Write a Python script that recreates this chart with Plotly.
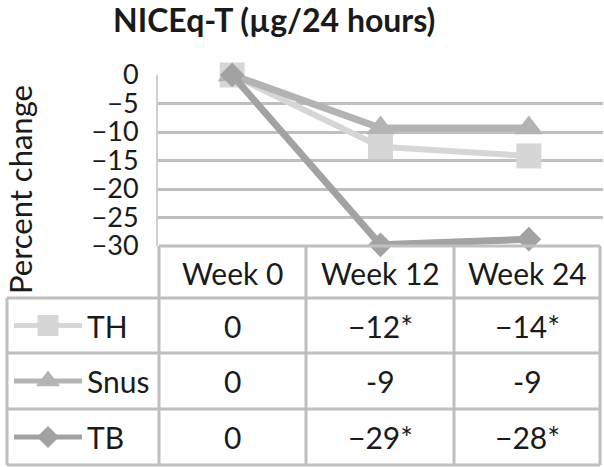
import plotly.graph_objects as go

# ---- data ----
weeks = ["Week 0", "Week 12", "Week 24"]
series_names = ["TH", "Snus", "TB"]
th_values = [0, -12.6, -14.2]
snus_values = [0, -9.3, -9.3]
tb_values = [0, -29.8, -28.8]
th_labels = ["0", "\u221212*", "\u221214*"]
snus_labels = ["0", "-9", "-9"]
tb_labels = ["0", "\u221229*", "\u221228*"]
y_ticks = [0, -5, -10, -15, -20, -25, -30]

title_text = "NICEq-T (\u00b5g/24 hours)"
y_title = "Percent change"

# ---- style ----
W, H = 604, 467
FONT = "Lato"
colors = {"TH": "#d6d6d6", "Snus": "#b3b3b3", "TB": "#a2a2a2"}
symbols = {"TH": "square", "Snus": "triangle-up", "TB": "diamond"}
msize = {"TH": 25, "Snus": 25, "TB": 19}
ksize = {"TH": 21, "Snus": 21, "TB": 17}
lwidth = {"TH": 6, "Snus": 7, "TB": 7}
grid_col = "#bfbfbf"

plot_left, plot_right = 158, 603
plot_top, plot_bottom = 75, 246
col_edges = [159, 306, 454, 600]
row_edges = [298, 353, 409, 465]
table_left = 7

fig = go.Figure()

values = {"TH": th_values, "Snus": snus_values, "TB": tb_values}
for name in series_names:
    fig.add_trace(go.Scatter(
        x=weeks, y=values[name], mode="lines+markers", name=name,
        line=dict(color=colors[name], width=lwidth[name]),
        marker=dict(symbol=symbols[name], size=msize[name], color=colors[name]),
        cliponaxis=False, showlegend=False, xaxis="x", yaxis="y"))

# legend keys inside table (pixel-coordinate helper axis)
for i, name in enumerate(series_names):
    yc = (row_edges[i] + row_edges[i + 1]) / 2
    fig.add_trace(go.Scatter(
        x=[14, 48, 82], y=[yc, yc, yc], mode="lines",
        line=dict(color=colors[name], width=5), showlegend=False,
        xaxis="x2", yaxis="y2", cliponaxis=False))
    fig.add_trace(go.Scatter(
        x=[48], y=[yc], mode="markers",
        marker=dict(symbol=symbols[name], size=ksize[name], color=colors[name]),
        showlegend=False, xaxis="x2", yaxis="y2", cliponaxis=False))

shapes = []
def line(x0, y0, x1, y1, w=3, c=grid_col):
    shapes.append(dict(type="line", xref="x2", yref="y2", x0=x0, y0=y0, x1=x1, y1=y1,
                       line=dict(color=c, width=w), layer="below"))

line(col_edges[0], plot_bottom, col_edges[-1], plot_bottom)
for ry in row_edges:
    line(table_left, ry, col_edges[-1], ry)
for cx in col_edges:
    line(cx, plot_bottom, cx, row_edges[-1])
line(table_left, row_edges[0], table_left, row_edges[-1])

annotations = []
tf = dict(family=FONT, size=30, color="#1a1a1a")
for j, wk in enumerate(weeks):
    xc = (col_edges[j] + col_edges[j + 1]) / 2
    annotations.append(dict(x=xc, y=(plot_bottom + row_edges[0]) / 2 + 1, xref="x2", yref="y2",
                            text=wk, showarrow=False, font=tf, xanchor="center", yanchor="middle"))
labels = {"TH": th_labels, "Snus": snus_labels, "TB": tb_labels}
for i, name in enumerate(series_names):
    yc = (row_edges[i] + row_edges[i + 1]) / 2
    annotations.append(dict(x=85, y=yc, xref="x2", yref="y2", text=name, showarrow=False,
                            font=tf, xanchor="left", yanchor="middle"))
    for j, lab in enumerate(labels[name]):
        xc = (col_edges[j] + col_edges[j + 1]) / 2
        annotations.append(dict(x=xc, y=yc, xref="x2", yref="y2", text=lab, showarrow=False,
                                font=tf, xanchor="center", yanchor="middle"))

annotations.append(dict(x=274, y=19, xref="x2", yref="y2", text="<b>" + title_text + "</b>",
                        showarrow=False, font=dict(family=FONT, size=32, color="#1a1a1a"),
                        xanchor="center", yanchor="middle"))
annotations.append(dict(x=20, y=190, xref="x2", yref="y2", text=y_title, textangle=-90,
                        showarrow=False, font=dict(family=FONT, size=31, color="#1a1a1a"),
                        xanchor="center", yanchor="middle"))

fig.update_layout(
    width=W, height=H, margin=dict(l=0, r=0, t=0, b=0, pad=0, autoexpand=False),
    paper_bgcolor="white", plot_bgcolor="rgba(0,0,0,0)",
    xaxis=dict(type="category", categoryarray=weeks, range=[-0.5, 2.5],
               domain=[plot_left / W, plot_right / W], showticklabels=False,
               showgrid=False, zeroline=False, showline=False, ticks="", anchor="y"),
    yaxis=dict(range=[-30, 0], domain=[1 - plot_bottom / H, 1 - plot_top / H],
               tickvals=y_ticks, anchor="x",
               ticktext=["0" if v == 0 else "\u2212" + str(abs(v)) for v in y_ticks],
               tickfont=dict(family=FONT, size=27, color="#1a1a1a"),
               showgrid=True, gridcolor=grid_col, gridwidth=3, zeroline=False,
               showline=True, linecolor="#cfcfcf", linewidth=2,
               ticks="", ticklabelstandoff=12),
    xaxis2=dict(range=[0, W], domain=[0, 1], visible=False, anchor="y2"),
    yaxis2=dict(range=[H, 0], domain=[0, 1], visible=False, anchor="x2"),
    shapes=shapes, annotations=annotations,
)

fig.write_html("out.html", config={"displayModeBar": False},
               post_script="document.body.style.margin='0';document.body.style.overflow='hidden';")
